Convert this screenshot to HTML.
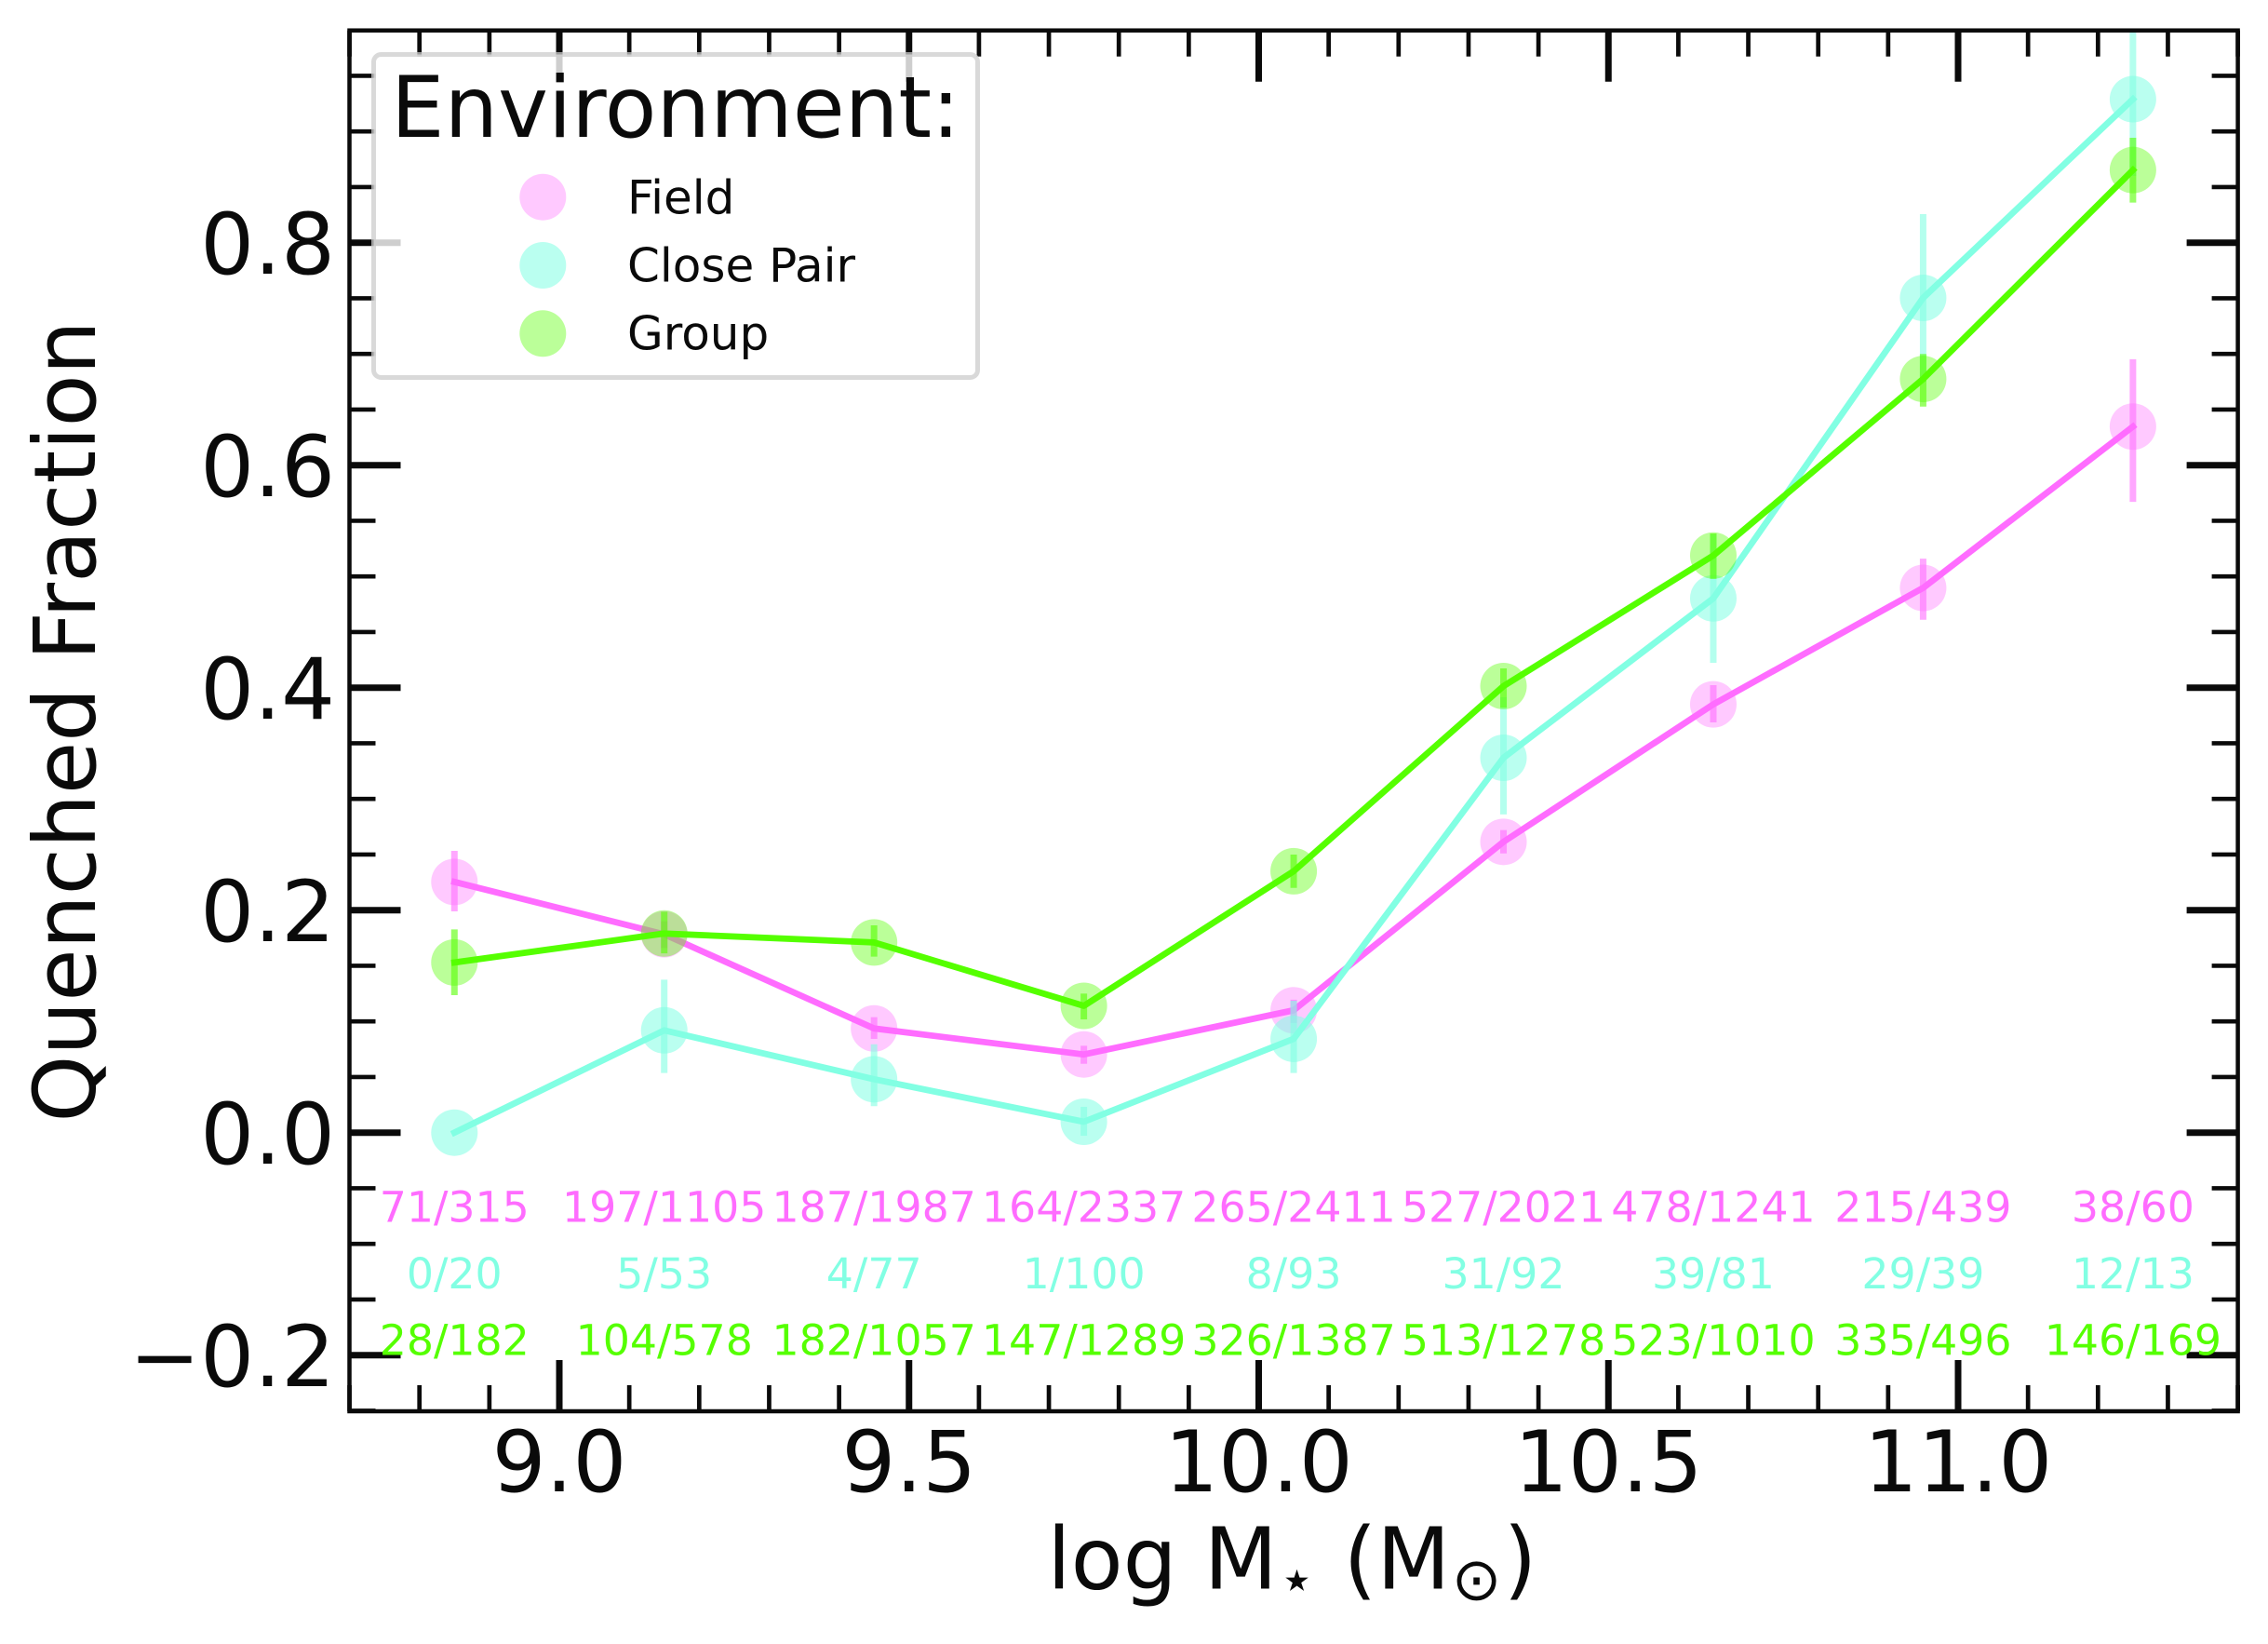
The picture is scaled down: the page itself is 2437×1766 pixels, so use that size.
<!DOCTYPE html>
<html>
<head>
<meta charset="utf-8">
<title>Quenched Fraction vs Stellar Mass</title>
<style>
html,body{margin:0;padding:0;background:#fff;}
svg{display:block;}
text{font-family:"DejaVu Sans","Liberation Sans",sans-serif;fill:#0a0a0a;}
</style>
</head>
<body>
<svg id="chart" xmlns="http://www.w3.org/2000/svg" width="2437" height="1766" viewBox="0 0 2437 1766">
<defs><clipPath id="plot-clip"><rect x="375.5" y="32.7" width="2029.1" height="1483.3"/></clipPath></defs>
<rect x="0" y="0" width="2437" height="1766" fill="#ffffff"/>
<g id="data-layer" clip-path="url(#plot-clip)"></g>
<g id="tick-layer"></g>
<rect x="375.5" y="32.7" width="2029.1" height="1483.3" fill="none" stroke="#0a0a0a" stroke-width="4.5"/>
<g id="label-layer"></g>
<text font-size="91.5" text-anchor="middle"><tspan x="1249" y="1706.7">log M</tspan><tspan x="1393.5" y="1718.7" font-size="64">⋆</tspan><tspan x="1501" y="1706.7">(M</tspan><tspan x="1586.6" y="1718.7" font-size="64">⊙</tspan><tspan x="1633.5" y="1706.7">)</tspan></text>
<text x="0" y="0" font-size="91.5" text-anchor="middle" transform="translate(102,775) rotate(-90)">Quenched Fraction</text>
<g>
<rect x="401.5" y="58.5" width="649" height="347" rx="8" ry="8" fill="#ffffff" fill-opacity="0.8" stroke="#cccccc" stroke-opacity="0.75" stroke-width="5"/>
<text x="420" y="147" font-size="91">Environment:</text>
<circle cx="583.3" cy="211.7" r="25" fill="#ff6cff" fill-opacity="0.37"/>
<text x="674" y="229.3" font-size="50">Field</text>
<circle cx="583.3" cy="285" r="25" fill="#82ffe3" fill-opacity="0.55"/>
<text x="674" y="302.7" font-size="50">Close Pair</text>
<circle cx="583.3" cy="358.3" r="25" fill="#55ff00" fill-opacity="0.4"/>
<text x="674" y="375.7" font-size="50">Group</text>
</g>
</svg>
<script>
const massBins = [8.85, 9.15, 9.45, 9.75, 10.05, 10.35, 10.65, 10.95, 11.25];

const fieldValues = [0.2254, 0.1783, 0.0937, 0.0703, 0.1100, 0.2614, 0.3850, 0.4897, 0.6347];
const fieldHigh = [0.2533, 0.1900, 0.1038, 0.0781, 0.1195, 0.2720, 0.4023, 0.5160, 0.6952];
const fieldLow = [0.1989, 0.1660, 0.0843, 0.0619, 0.0985, 0.2510, 0.3688, 0.4610, 0.5670];
const fieldCounts = ['71/315', '197/1105', '187/1987', '164/2337', '265/2411', '527/2021', '478/1241', '215/439', '38/60'];

const closeValues = [0.0000, 0.0920, 0.0480, 0.0098, 0.0843, 0.3370, 0.4803, 0.7504, 0.9290];
const closeHigh = [0.0000, 0.1375, 0.0795, 0.0232, 0.1186, 0.3914, 0.5380, 0.8257, 1.0200];
const closeLow = [0.0000, 0.0536, 0.0238, -0.0028, 0.0536, 0.2860, 0.4223, 0.6750, 0.8600];
const closeCounts = ['0/20', '5/53', '4/77', '1/100', '8/93', '31/92', '39/81', '29/39', '12/13'];

const groupValues = [0.1530, 0.1790, 0.1710, 0.1140, 0.2350, 0.4014, 0.5188, 0.6775, 0.8653];
const groupHigh = [0.1827, 0.1986, 0.1864, 0.1250, 0.2500, 0.4173, 0.5387, 0.7000, 0.8943];
const groupLow = [0.1236, 0.1612, 0.1582, 0.1018, 0.2200, 0.3820, 0.4979, 0.6527, 0.8360];
const groupCounts = ['28/182', '104/578', '182/1057', '147/1289', '326/1387', '513/1278', '523/1010', '335/496', '146/169'];

const xMajorTicks = [9.0, 9.5, 10.0, 10.5, 11.0];
const xTickLabels = ['9.0', '9.5', '10.0', '10.5', '11.0'];
const xMinorTicks = [8.7, 8.8, 8.9, 9.1, 9.2, 9.3, 9.4, 9.6, 9.7, 9.8, 9.9, 10.1, 10.2, 10.3, 10.4, 10.6, 10.7, 10.8, 10.9, 11.1, 11.2, 11.3, 11.4];
const yMajorTicks = [-0.2, 0.0, 0.2, 0.4, 0.6, 0.8];
const yTickLabels = ['\u22120.2', '0.0', '0.2', '0.4', '0.6', '0.8'];
const yMinorTicks = [-0.25, -0.15, -0.1, -0.05, 0.05, 0.1, 0.15, 0.25, 0.3, 0.35, 0.45, 0.5, 0.55, 0.65, 0.7, 0.75, 0.85, 0.9, 0.95];

const seriesNames = ['field', 'close-pair', 'group'];
const seriesColors = ['#ff6cff', '#82ffe3', '#55ff00'];
const seriesMarkerOpacity = [0.37, 0.55, 0.4];
const seriesValues = [fieldValues, closeValues, groupValues];
const seriesHigh = [fieldHigh, closeHigh, groupHigh];
const seriesLow = [fieldLow, closeLow, groupLow];
const seriesCounts = [fieldCounts, closeCounts, groupCounts];
const countRows = [-0.08, -0.14, -0.2];

const SVG_NS = 'http://www.w3.org/2000/svg';
const dataLayer = document.getElementById('data-layer');
const tickLayer = document.getElementById('tick-layer');
const labelLayer = document.getElementById('label-layer');

function xScale(v) { return 601 + (v - 9) * 751.5; }
function yScale(v) { return 1216.7 - v * 1195; }

function make(tag, props, parent) {
  const node = document.createElementNS(SVG_NS, tag);
  for (const k in props) node.setAttribute(k, props[k]);
  parent.appendChild(node);
  return node;
}

seriesNames.forEach(function (name, s) {
  const color = seriesColors[s];
  massBins.forEach(function (m, i) {
    const marker = make('circle', { cx: xScale(m), cy: yScale(seriesValues[s][i]), r: 25, fill: color, 'fill-opacity': seriesMarkerOpacity[s] }, dataLayer);
    
    
  });
  massBins.forEach(function (m, i) {
    const bar = make('line', { x1: xScale(m), x2: xScale(m), y1: yScale(seriesHigh[s][i]), y2: yScale(seriesLow[s][i]), stroke: color, 'stroke-opacity': 0.6, 'stroke-width': 7 }, dataLayer);
    
    
  });
  const pts = massBins.map(function (m, i) { return xScale(m) + ',' + yScale(seriesValues[s][i]); }).join(' ');
  const line = make('polyline', { points: pts, fill: 'none', stroke: color, 'stroke-width': 6.8, 'stroke-linejoin': 'round', 'stroke-linecap': 'square' }, dataLayer);
  
  
});

function drawXTick(v, len, w, label) {
  const x = xScale(v);
  const bottom = make('line', { x1: x, x2: x, y1: 1516, y2: 1516 - len, stroke: '#0a0a0a', 'stroke-width': w }, tickLayer);
  
  
  const top = make('line', { x1: x, x2: x, y1: 32.7, y2: 32.7 + len, stroke: '#0a0a0a', 'stroke-width': w }, tickLayer);
  
  
}
function drawYTick(v, len, w, label) {
  const y = yScale(v);
  const left = make('line', { x1: 375.5, x2: 375.5 + len, y1: y, y2: y, stroke: '#0a0a0a', 'stroke-width': w }, tickLayer);
  
  
  const right = make('line', { x1: 2404.6, x2: 2404.6 - len, y1: y, y2: y, stroke: '#0a0a0a', 'stroke-width': w }, tickLayer);
  
  
}
xMinorTicks.forEach(function (v) { drawXTick(v, 28, 4.7, 'x-minor-tick'); });
xMajorTicks.forEach(function (v) { drawXTick(v, 55, 7, 'x-major-tick'); });
yMinorTicks.forEach(function (v) { drawYTick(v, 28, 4.7, 'y-minor-tick'); });
yMajorTicks.forEach(function (v) { drawYTick(v, 55, 7, 'y-major-tick'); });

xMajorTicks.forEach(function (v, i) {
  const t = make('text', { x: xScale(v), y: 1602, 'font-size': 91, 'text-anchor': 'middle' }, labelLayer);
  t.textContent = xTickLabels[i];
  
  
});
yMajorTicks.forEach(function (v, i) {
  const t = make('text', { x: 360, y: yScale(v) + 33.5, 'font-size': 91, 'text-anchor': 'end' }, labelLayer);
  t.textContent = yTickLabels[i];
  
  
});
seriesNames.forEach(function (name, s) {
  massBins.forEach(function (m, i) {
    const t = make('text', { x: xScale(m), y: yScale(countRows[s]), 'font-size': 45.8, 'text-anchor': 'middle', style: 'fill:' + seriesColors[s] }, labelLayer);
    t.textContent = seriesCounts[s][i];
    
    
  });
});
</script>
</body>
</html>
